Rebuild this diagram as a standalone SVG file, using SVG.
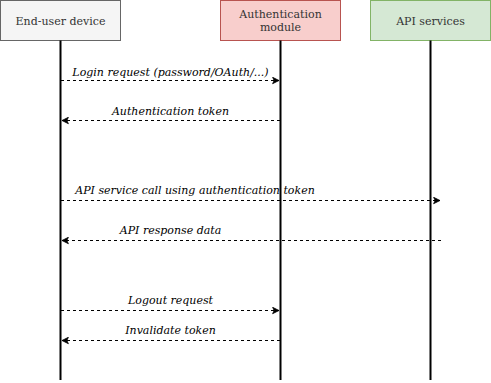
<svg xmlns="http://www.w3.org/2000/svg" width="491" height="383" viewBox="0 0 491 383">
<defs>
<marker id="ah" viewBox="0 0 10 10" refX="9" refY="5" markerWidth="8" markerHeight="8" markerUnits="userSpaceOnUse" orient="auto">
<path d="M1,1 L9,5 L1,9 L3,5 Z" fill="#000" stroke="#000" stroke-width="1"/>
</marker>
</defs>
<style>
.box{stroke-width:1}
.lbl{font-family:"DejaVu Serif","Liberation Serif",serif;font-size:11px;fill:#333;text-anchor:middle}
.msg{font-family:"DejaVu Serif","Liberation Serif",serif;font-size:11px;font-style:italic;fill:#000;text-anchor:middle}
.life{stroke:#000;stroke-width:2;fill:none}
.arr{stroke:#000;stroke-width:1;stroke-dasharray:3 3;fill:none;marker-end:url(#ah)}
</style>
<rect width="491" height="383" fill="#fff"/>
<g id="device">
<rect class="box" x="0.5" y="0.5" width="120" height="40" fill="#f5f5f5" stroke="#666"/>
<text class="lbl" x="60.5" y="24.5">End-user device</text>
<line class="life" x1="60.5" y1="40.5" x2="60.5" y2="380"/>
</g>
<g id="auth">
<rect class="box" x="220.5" y="0.5" width="120" height="40" fill="#f8cecc" stroke="#b85450"/>
<text class="lbl" x="280.5" y="18">Authentication</text>
<text class="lbl" x="280.5" y="31">module</text>
<line class="life" x1="280.5" y1="40.5" x2="280.5" y2="380"/>
</g>
<g id="api">
<rect class="box" x="370.5" y="0.5" width="120" height="40" fill="#d5e8d4" stroke="#82b366"/>
<text class="lbl" x="430.5" y="24.5">API services</text>
<line class="life" x1="430.5" y1="40.5" x2="430.5" y2="380"/>
</g>
<g id="connectors">
<line class="arr" x1="61" y1="80.5" x2="279" y2="80.5"/>
<text class="msg" x="170.5" y="76">Login request (password/OAuth/...)</text>
<line class="arr" x1="280" y1="120.5" x2="62" y2="120.5"/>
<text class="msg" x="170.5" y="115">Authentication token</text>
<line class="arr" x1="61" y1="200.5" x2="440" y2="200.5"/>
<text class="msg" x="195" y="194">API service call using authentication token</text>
<line class="arr" x1="441" y1="240.5" x2="62" y2="240.5"/>
<text class="msg" x="170.5" y="234">API response data</text>
<line class="arr" x1="61" y1="310.5" x2="279" y2="310.5"/>
<text class="msg" x="170.5" y="304">Logout request</text>
<line class="arr" x1="280" y1="340.5" x2="62" y2="340.5"/>
<text class="msg" x="170.5" y="334">Invalidate token</text>
</g>
</svg>
